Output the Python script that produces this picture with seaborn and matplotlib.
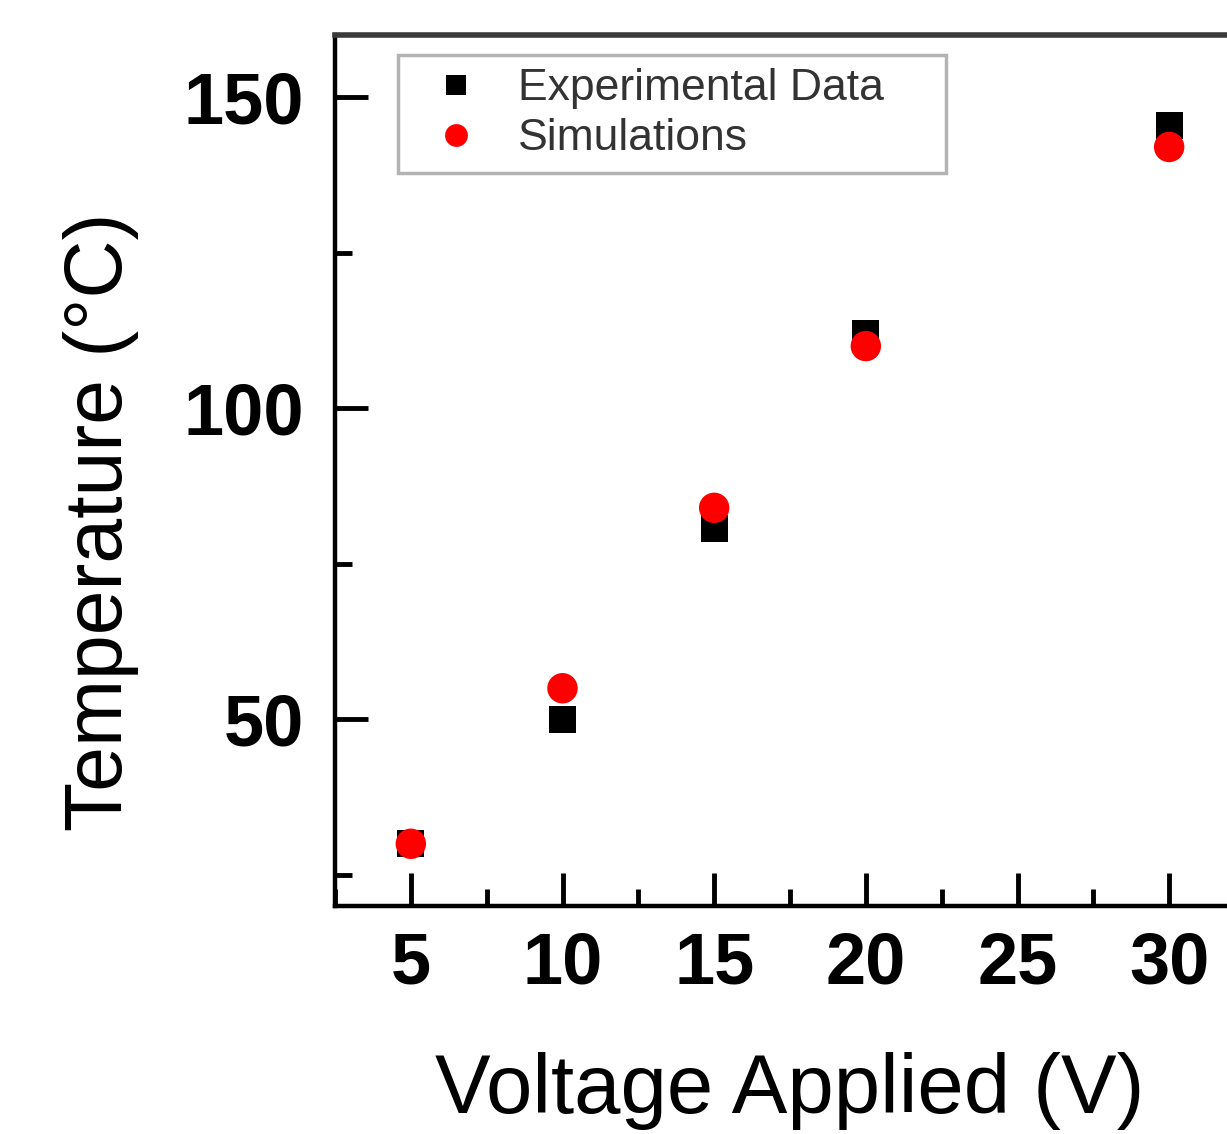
import pandas as pd
import numpy as np
import matplotlib
matplotlib.use("Agg")
import matplotlib.pyplot as plt
from matplotlib.ticker import MultipleLocator
import seaborn as sns

voltage = [5, 10, 15, 20, 30]
experimental = [30, 50, 80.7, 112, 145.5]
simulations = [30, 55, 84, 110, 142]

sns.set_style("white")
plt.rcParams['font.family'] = ['Liberation Sans', 'DejaVu Sans']

df = pd.DataFrame({
    "Voltage": voltage * 2,
    "Temperature": experimental + simulations,
    "Series": ["Experimental Data"] * len(voltage) + ["Simulations"] * len(voltage),
})

fig = plt.figure(figsize=(12.27, 11.34), dpi=100)
ax = fig.add_axes([335 / 1227, 228 / 1134, 910 / 1227, 871 / 1134])

sns.scatterplot(data=df, x="Voltage", y="Temperature", hue="Series", style="Series",
                size="Series",
                palette={"Experimental Data": "black", "Simulations": "red"},
                markers={"Experimental Data": "s", "Simulations": "o"},
                sizes={"Experimental Data": 380, "Simulations": 480},
                linewidth=0, ax=ax, zorder=3)

ax.set_xlim(2.5, 32.5)
ax.set_ylim(20, 160)
ax.xaxis.set_major_locator(MultipleLocator(5))
ax.xaxis.set_minor_locator(MultipleLocator(2.5))
ax.yaxis.set_major_locator(MultipleLocator(50))
ax.yaxis.set_minor_locator(MultipleLocator(25))
ax.tick_params(which="both", direction="in", width=3.5, color="black",
               bottom=True, left=True, top=False, right=False)
ax.tick_params(which="major", length=24)
ax.tick_params(which="minor", length=12)
ax.tick_params(axis="x", which="major", pad=18, labelsize=52, labelcolor="black")
ax.tick_params(axis="y", which="major", pad=22, labelsize=52, labelcolor="black")
for lab in ax.get_xticklabels() + ax.get_yticklabels():
    lab.set_fontweight("bold")

for side in ["left", "bottom"]:
    ax.spines[side].set_linewidth(3.2)
    ax.spines[side].set_color("black")
ax.spines["top"].set_linewidth(4)
ax.spines["top"].set_color("#3a3a3a")
ax.spines["right"].set_linewidth(4)
ax.spines["right"].set_color("#3a3a3a")

ax.set_xlabel("Voltage Applied (V)", fontsize=60, labelpad=38, color="black")
ax.set_ylabel("Temperature (°C)", fontsize=58, color="black")
ax.yaxis.set_label_coords(-0.215, 0.441)

leg = ax.legend(loc="upper left", bbox_to_anchor=(0.069, 0.977, 0.602, 0.0),
                mode="expand", fontsize=32,
                frameon=True, fancybox=False, edgecolor="#a0a0a0",
                markerscale=0.75, handletextpad=0.4, borderpad=0.3,
                labelspacing=0.2, borderaxespad=0)
leg.get_frame().set_linewidth(2.5)
for t in leg.get_texts():
    t.set_color("#333333")

fig.savefig("out.png", dpi=100)
